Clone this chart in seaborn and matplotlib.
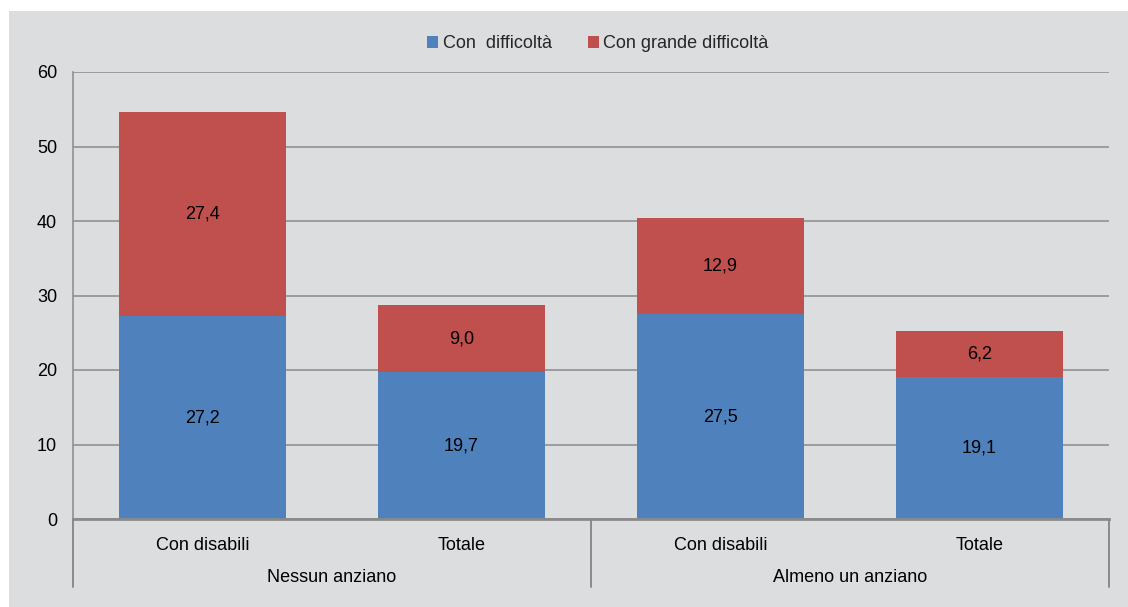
import matplotlib
matplotlib.use("Agg")
import matplotlib.pyplot as plt
from matplotlib.patches import Rectangle
import seaborn as sns
import pandas as pd

groups = ["Nessun anziano", "Nessun anziano", "Almeno un anziano", "Almeno un anziano"]
categories = ["Con disabili", "Totale", "Con disabili", "Totale"]
con_difficolta = [27.2, 19.7, 27.5, 19.1]
con_grande_difficolta = [27.4, 9.0, 12.9, 6.2]
series_names = ["Con  difficoltà", "Con grande difficoltà"]
yticks = [0, 10, 20, 30, 40, 50, 60]

BLUE = "#4F81BD"
RED = "#C0504D"
BG = "#DCDDDF"
GRID = "#8A8A8A"

sns.set_theme(style="white")
plt.rcParams["font.family"] = ["Liberation Sans", "DejaVu Sans"]
plt.rcParams["font.size"] = 13

df = pd.DataFrame({
    "key": [f"{g}|{c}" for g, c in zip(groups, categories)],
    "blue": con_difficolta,
    "red": con_grande_difficolta,
})
df["total"] = df["blue"] + df["red"]

fig = plt.figure(figsize=(11.28, 6.07), dpi=100)
fig.patch.set_facecolor("white")
fig.patches.append(Rectangle((9 / 1128, 0), 1 - 9 / 1128, 1 - 11 / 607,
                             transform=fig.transFigure, facecolor=BG,
                             edgecolor="none", zorder=-10))
ax = fig.add_axes([73 / 1128, 1 - 519 / 607, (1109 - 73) / 1128, (519 - 72) / 607])
ax.set_facecolor(BG)

order = list(df["key"])
sns.barplot(data=df, x="key", y="total", order=order, color=RED, saturation=1,
            width=0.645, ax=ax, label=series_names[1], zorder=3,
            edgecolor="none", linewidth=0)
sns.barplot(data=df, x="key", y="blue", order=order, color=BLUE, saturation=1,
            width=0.645, ax=ax, label=series_names[0], zorder=3,
            edgecolor="none", linewidth=0)

fmt = lambda v: f"{v:.1f}".replace(".", ",")
ax.bar_label(ax.containers[1], labels=[fmt(v) for v in df["blue"]],
             label_type="center", fontsize=13, color="black")
for i, (b, r) in enumerate(zip(df["blue"], df["red"])):
    ax.text(i, b + r / 2, fmt(r), ha="center", va="center", fontsize=13,
            color="black", zorder=5)

ax.set_ylim(0, 60)
ax.set_xlim(-0.5, 3.5)
ax.set_yticks(yticks)
ax.set_yticklabels([str(t) for t in yticks])
ax.set_xticks(range(len(categories)))
ax.set_xticklabels(categories)
ax.tick_params(axis="both", length=0, labelsize=13, colors="black")
ax.tick_params(axis="y", pad=11.5)
ax.tick_params(axis="x", pad=13)
ax.set_xlabel("")
ax.set_ylabel("")

ax.set_axisbelow(True)
ax.yaxis.grid(True, color=GRID, linewidth=1.1)
ax.xaxis.grid(False)
for s in ["top", "right"]:
    ax.spines[s].set_visible(False)
ax.spines["left"].set_color(GRID)
ax.spines["left"].set_linewidth(1.1)
ax.spines["bottom"].set_color(GRID)
ax.spines["bottom"].set_linewidth(2.0)
ax.spines["bottom"].set_zorder(4)

trans = ax.get_xaxis_transform()
for xs in [-0.5, 1.5, 3.5]:
    ax.plot([xs, xs], [0, -0.152], transform=trans, color=GRID, lw=1.4,
            clip_on=False, zorder=4)
for gx, gname in [(0.5, groups[0]), (2.5, groups[2])]:
    ax.text(gx, -0.13, gname, transform=trans, ha="center", va="center",
            fontsize=13, color="black")

handles, labels = ax.get_legend_handles_labels()
hmap = dict(zip(labels, handles))
leg = fig.legend([hmap[series_names[0]], hmap[series_names[1]]], series_names,
                 loc="center", bbox_to_anchor=(0.53, 1 - 44 / 607), ncol=2,
                 frameon=False, fontsize=13, handlelength=0.6, handleheight=0.6,
                 handletextpad=0.25, columnspacing=2.0)
if ax.get_legend():
    ax.get_legend().remove()

fig.savefig("out.png", dpi=100, facecolor="white")
